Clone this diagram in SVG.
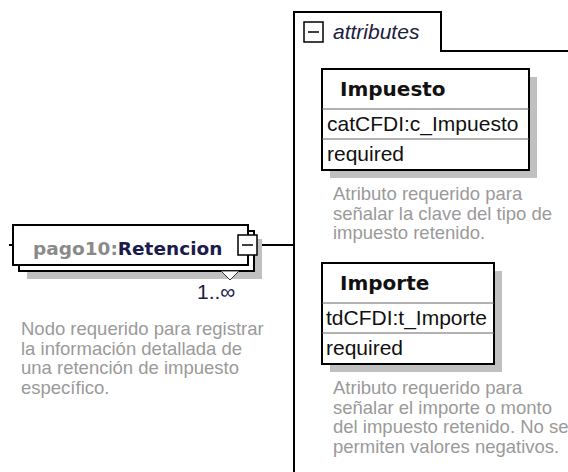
<svg xmlns="http://www.w3.org/2000/svg" width="568" height="472" viewBox="0 0 568 472">
<style>
.box{fill:#fff;stroke:#000;stroke-width:2}
.shadow{fill:#c0c0c0;stroke:none}
.div{stroke:#666;stroke-width:1}
.line{stroke:#000;stroke-width:2;fill:none}
.hdr{font-family:"DejaVu Sans",sans-serif;font-weight:bold;font-size:20px;fill:#111}
.row{font-family:"Liberation Sans",Arial,sans-serif;font-size:21px;fill:#111}
.desc{font-family:"Liberation Sans",Arial,sans-serif;font-size:18.5px;fill:#9a9a9a}
.mult{font-family:"Liberation Sans",Arial,sans-serif;font-size:21px;fill:#1c1c4c}
</style>
<rect width="568" height="472" fill="#fff"/>
<g id="connectors">
<line class="line" x1="257" y1="245" x2="294" y2="245"/>
<line class="line" x1="9" y1="245" x2="13" y2="245"/>
</g>
<g id="attributes">
<path class="line" d="M294,472 V12 H441 V51 H568"/>
<rect x="304" y="22" width="19" height="20" fill="#fff" stroke="#000" stroke-width="1.5"/>
<line x1="308" y1="32" x2="319" y2="32" stroke="#000" stroke-width="1.5"/>
<text x="333" y="39" font-family="'Liberation Sans',Arial,sans-serif" font-style="italic" font-size="21" fill="#202040">attributes</text>
</g>
<g id="Retencion">
<rect class="shadow" x="27" y="239" width="235" height="40"/>
<rect class="box" x="19" y="231" width="235" height="40"/>
<rect class="box" x="13" y="225" width="235" height="40"/>
<polygon points="221,271 230,280 239,271" fill="#fff" stroke="#333" stroke-width="1"/>
<rect x="238" y="235" width="19" height="20" fill="#fff" stroke="#000" stroke-width="1.5"/>
<line x1="242" y1="245" x2="253" y2="245" stroke="#000" stroke-width="1.5"/>
<text x="33" y="255" font-family="'DejaVu Sans',sans-serif" font-weight="bold" font-size="18.5"><tspan fill="#8a8a8a">pago10:</tspan><tspan fill="#1c1c4c">Retencion</tspan></text>
<text class="mult" x="197" y="299">1..∞</text>
<text class="desc" x="21"><tspan x="21" y="335">Nodo requerido para registrar</tspan><tspan x="21" y="354.5">la información detallada de</tspan><tspan x="21" y="374">una retención de impuesto</tspan><tspan x="21" y="393.5">específico.</tspan></text>
</g>
<g id="Impuesto">
<rect class="shadow" x="330" y="77" width="207" height="101"/>
<rect class="box" x="322" y="69" width="207" height="101"/>
<line class="div" x1="322" y1="109" x2="529" y2="109"/>
<line class="div" x1="322" y1="139" x2="529" y2="139"/>
<text class="hdr" x="340" y="96">Impuesto</text>
<text class="row" x="327" y="131">catCFDI:c_Impuesto</text>
<text class="row" x="327" y="161">required</text>
<text class="desc"><tspan x="333" y="200">Atributo requerido para</tspan><tspan x="333" y="219.5">señalar la clave del tipo de</tspan><tspan x="333" y="239">impuesto retenido.</tspan></text>
</g>
<g id="Importe">
<rect class="shadow" x="330" y="271" width="172" height="101"/>
<rect class="box" x="322" y="263" width="172" height="101"/>
<line class="div" x1="322" y1="303" x2="494" y2="303"/>
<line class="div" x1="322" y1="333" x2="494" y2="333"/>
<text class="hdr" x="340" y="290">Importe</text>
<text class="row" x="326" y="325">tdCFDI:t_Importe</text>
<text class="row" x="326" y="355">required</text>
<text class="desc"><tspan x="333" y="394">Atributo requerido para</tspan><tspan x="333" y="413.5">señalar el importe o monto</tspan><tspan x="333" y="433">del impuesto retenido. No se</tspan><tspan x="333" y="452.5">permiten valores negativos.</tspan></text>
</g>
</svg>
